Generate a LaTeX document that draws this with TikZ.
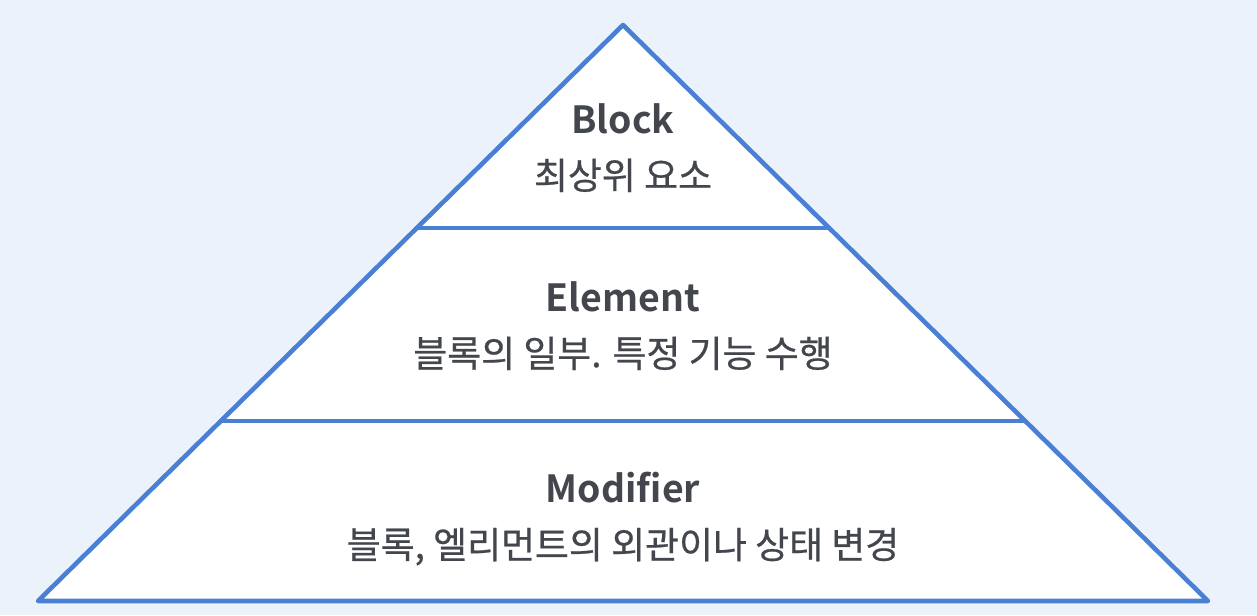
\documentclass[tikz,border=0pt]{standalone}
\usepackage{fontspec}
\usepackage{tikz}
\usetikzlibrary{positioning}
\usetikzlibrary{calc}
\newfontfamily\korfont[FakeBold=0.6]{Noto Sans CJK KR}
\newfontfamily\korbold{Noto Sans CJK KR Bold}
\definecolor{bgblue}{HTML}{EBF2FC}
\definecolor{lineblue}{HTML}{4A80D4}
\definecolor{textgray}{HTML}{43474D}

\begin{document}
\begin{tikzpicture}[x=0.02cm, y=-0.02cm,
  layerline/.style={draw=lineblue, line width=2.6pt, line join=round, line cap=round},
  titletext/.style={font=\korbold\fontsize{21.3}{25}\selectfont, text=textgray, inner sep=0pt},
  desctext/.style={font=\korfont\fontsize{21}{25}\selectfont, text=textgray, inner sep=0pt}]
  % background and bounds
  \fill[bgblue] (0,0) rectangle (1257,615);
  \useasboundingbox (0,0) rectangle (1257,615);
  % pyramid corners
  \coordinate (apex) at (623,25);
  \coordinate (baseleft) at (38,601);
  \coordinate (baseright) at (1208,601);
  \coordinate (upperleft) at ($(apex)!0.3524!(baseleft)$);
  \coordinate (upperright) at ($(apex)!0.3524!(baseright)$);
  \coordinate (lowerleft) at ($(apex)!0.6875!(baseleft)$);
  \coordinate (lowerright) at ($(apex)!0.6875!(baseright)$);
  \fill[white] (apex) -- (baseleft) -- (baseright) -- cycle;
  \draw[layerline] (apex) -- (baseleft) -- (baseright) -- cycle;
  \draw[layerline] (upperleft) -- (upperright);
  \draw[layerline] (lowerleft) -- (lowerright);
  % labels
  \node[titletext] (block) at (623,119) {Block};
  \node[desctext, below=13.5pt of block] (blockdesc) {최상위 요소};
  \node[titletext] (element) at (623,297) {Element};
  \node[desctext, below=13.5pt of element] (elementdesc) {블록의 일부. 특정 기능 수행};
  \node[titletext] (modifier) at (623,488) {Modifier};
  \node[desctext, below=13.5pt of modifier] (modifierdesc) {블록, 엘리먼트의 외관이나 상태 변경};
\end{tikzpicture}
\end{document}
